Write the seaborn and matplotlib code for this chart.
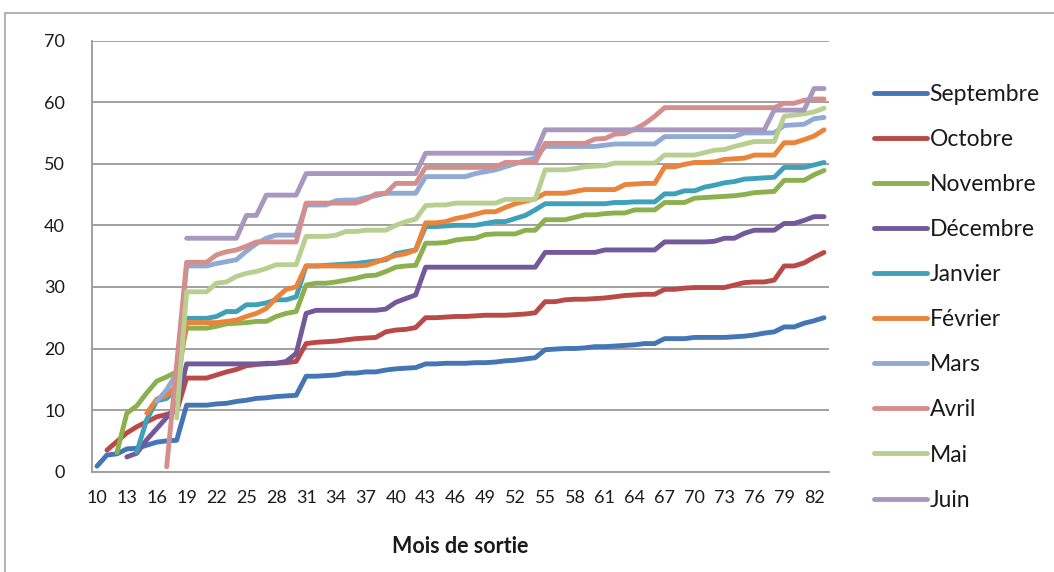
import numpy as np
import pandas as pd
import matplotlib
matplotlib.use("Agg")
import matplotlib.pyplot as plt
from matplotlib.lines import Line2D
import seaborn as sns

N = None
mois = list(range(10, 84))

septembre = [0.9, 2.7, 2.9, 3.7, 3.8, 4.3, 4.8, 5.0, 5.1,
             10.8, 10.8, 10.8, 11.0, 11.1, 11.4, 11.6, 11.9, 12.0, 12.2, 12.3, 12.4,
             15.5, 15.5, 15.6, 15.7, 16.0, 16.0, 16.2, 16.2, 16.5, 16.7, 16.8, 16.9,
             17.5, 17.5, 17.6, 17.6, 17.6, 17.7, 17.7, 17.8, 18.0, 18.1, 18.3, 18.5,
             19.8, 19.9, 20.0, 20.0, 20.1, 20.3, 20.3, 20.4, 20.5, 20.6, 20.8, 20.8,
             21.6, 21.6, 21.6, 21.8, 21.8, 21.8, 21.8, 21.9, 22.0, 22.2, 22.5, 22.7,
             23.5, 23.5, 24.1, 24.5, 25.0]
octobre = [N, 3.5, 4.9, 6.3, 7.3, 8.1, 8.9, 9.3, 9.8,
           15.2, 15.2, 15.2, 15.7, 16.2, 16.6, 17.2, 17.4, 17.6, 17.6, 17.7, 17.9,
           20.8, 21.0, 21.1, 21.2, 21.4, 21.6, 21.7, 21.8, 22.7, 23.0, 23.1, 23.4,
           25.0, 25.0, 25.1, 25.2, 25.2, 25.3, 25.4, 25.4, 25.4, 25.5, 25.6, 25.8,
           27.6, 27.6, 27.9, 28.0, 28.0, 28.1, 28.2, 28.4, 28.6, 28.7, 28.8, 28.8,
           29.6, 29.6, 29.8, 29.9, 29.9, 29.9, 29.9, 30.3, 30.7, 30.8, 30.8, 31.1,
           33.4, 33.4, 33.9, 34.8, 35.6]
novembre = [N, N, 3.1, 9.5, 10.7, 12.8, 14.7, 15.4, 16.2,
            23.3, 23.3, 23.3, 23.6, 24.0, 24.1, 24.2, 24.4, 24.4, 25.2, 25.7, 26.0,
            30.3, 30.6, 30.6, 30.8, 31.1, 31.4, 31.8, 31.9, 32.5, 33.2, 33.4, 33.5,
            37.1, 37.1, 37.2, 37.6, 37.8, 37.9, 38.5, 38.6, 38.6, 38.6, 39.2, 39.2,
            40.9, 40.9, 40.9, 41.3, 41.7, 41.7, 41.9, 42.0, 42.0, 42.5, 42.5, 42.5,
            43.7, 43.7, 43.7, 44.4, 44.5, 44.6, 44.7, 44.8, 45.0, 45.3, 45.4, 45.5,
            47.3, 47.3, 47.3, 48.2, 48.9]
decembre = [N, N, N, 2.4, 3.0, 5.2, 7.0, 8.8, 10.6,
            17.5, 17.5, 17.5, 17.5, 17.5, 17.5, 17.5, 17.5, 17.5, 17.6, 17.9, 19.2,
            25.7, 26.2, 26.2, 26.2, 26.2, 26.2, 26.2, 26.2, 26.4, 27.5, 28.1, 28.7,
            33.2, 33.2, 33.2, 33.2, 33.2, 33.2, 33.2, 33.2, 33.2, 33.2, 33.2, 33.2,
            35.6, 35.6, 35.6, 35.6, 35.6, 35.6, 36.0, 36.0, 36.0, 36.0, 36.0, 36.0,
            37.3, 37.3, 37.3, 37.3, 37.3, 37.4, 37.9, 37.9, 38.7, 39.2, 39.2, 39.2,
            40.3, 40.3, 40.8, 41.4, 41.4]
janvier = [N, N, N, N, 3.2, 8.5, 11.5, 11.9, 13.5,
           24.9, 24.9, 24.9, 25.2, 26.0, 26.0, 27.1, 27.1, 27.4, 27.9, 27.9, 28.4,
           33.4, 33.4, 33.5, 33.6, 33.7, 33.8, 34.0, 34.2, 34.4, 35.4, 35.7, 36.0,
           39.8, 39.8, 39.9, 40.0, 40.0, 40.0, 40.3, 40.6, 40.6, 41.1, 41.6, 42.5,
           43.5, 43.5, 43.5, 43.5, 43.5, 43.5, 43.5, 43.7, 43.7, 43.8, 43.8, 43.8,
           45.1, 45.1, 45.6, 45.6, 46.2, 46.5, 46.9, 47.1, 47.5, 47.6, 47.7, 47.8,
           49.4, 49.4, 49.4, 49.8, 50.2]
fevrier = [N, N, N, N, N, 9.5, 11.8, 12.4, 14.0,
           24.2, 24.2, 24.2, 24.2, 24.4, 24.6, 25.2, 25.7, 26.5, 28.2, 29.6, 30.0,
           33.4, 33.4, 33.4, 33.4, 33.4, 33.4, 33.5, 34.0, 34.6, 35.1, 35.4, 36.0,
           40.4, 40.4, 40.6, 41.1, 41.4, 41.8, 42.2, 42.2, 42.9, 43.5, 43.9, 44.3,
           45.2, 45.2, 45.2, 45.5, 45.8, 45.8, 45.8, 45.8, 46.6, 46.7, 46.8, 46.8,
           49.5, 49.5, 49.9, 50.2, 50.2, 50.3, 50.7, 50.8, 50.9, 51.4, 51.4, 51.4,
           53.4, 53.4, 53.9, 54.5, 55.5]
mars = [N, N, N, N, N, N, 11.4, 13.3, 16.0,
        33.4, 33.4, 33.4, 33.8, 34.1, 34.4, 35.8, 37.0, 37.9, 38.4, 38.4, 38.4,
        43.3, 43.3, 43.3, 44.0, 44.1, 44.1, 44.5, 44.8, 45.2, 45.2, 45.2, 45.2,
        47.9, 47.9, 47.9, 47.9, 47.9, 48.4, 48.7, 49.0, 49.5, 50.0, 50.5, 50.9,
        52.8, 52.8, 52.8, 52.8, 52.8, 52.8, 53.0, 53.2, 53.2, 53.2, 53.2, 53.2,
        54.4, 54.4, 54.4, 54.4, 54.4, 54.4, 54.4, 54.4, 55.0, 55.0, 55.0, 55.0,
        56.2, 56.3, 56.4, 57.3, 57.5]
avril = [N, N, N, N, N, N, N, 0.8, 17.4,
         34.0, 34.0, 34.0, 35.2, 35.7, 36.0, 36.6, 37.3, 37.3, 37.3, 37.3, 37.3,
         43.6, 43.6, 43.6, 43.6, 43.6, 43.6, 44.2, 45.1, 45.2, 46.8, 46.8, 46.8,
         49.4, 49.4, 49.4, 49.4, 49.4, 49.4, 49.4, 49.5, 50.2, 50.2, 50.2, 50.2,
         53.3, 53.3, 53.3, 53.3, 53.3, 54.0, 54.1, 54.8, 54.9, 55.6, 56.5, 57.7,
         59.1, 59.1, 59.1, 59.1, 59.1, 59.1, 59.1, 59.1, 59.1, 59.1, 59.1, 59.1,
         59.8, 59.8, 60.3, 60.5, 60.5]
mai = [N, N, N, N, N, N, N, N, 8.7,
       29.2, 29.2, 29.2, 30.6, 30.8, 31.7, 32.2, 32.5, 33.0, 33.6, 33.6, 33.6,
       38.2, 38.2, 38.2, 38.4, 39.0, 39.0, 39.2, 39.2, 39.2, 40.0, 40.6, 41.0,
       43.2, 43.3, 43.3, 43.6, 43.6, 43.6, 43.6, 43.6, 44.2, 44.2, 44.2, 44.2,
       49.0, 49.0, 49.0, 49.2, 49.5, 49.6, 49.7, 50.1, 50.1, 50.1, 50.1, 50.1,
       51.4, 51.4, 51.4, 51.4, 51.8, 52.2, 52.3, 52.8, 53.2, 53.6, 53.6, 53.6,
       57.7, 57.9, 58.1, 58.4, 59.0]
juin = [N, N, N, N, N, N, N, N, N,
        37.9, 37.9, 37.9, 37.9, 37.9, 37.9, 41.6, 41.6, 44.9, 44.9, 44.9, 44.9,
        48.4, 48.4, 48.4, 48.4, 48.4, 48.4, 48.4, 48.4, 48.4, 48.4, 48.4, 48.4,
        51.7, 51.7, 51.7, 51.7, 51.7, 51.7, 51.7, 51.7, 51.7, 51.7, 51.7, 51.7,
        55.5, 55.5, 55.5, 55.5, 55.5, 55.5, 55.5, 55.5, 55.5, 55.5, 55.5, 55.5,
        55.5, 55.5, 55.5, 55.5, 55.5, 55.5, 55.5, 55.5, 55.5, 55.5, 55.5, 58.7,
        58.7, 58.7, 58.7, 62.2, 62.2]

series_names = ["Septembre", "Octobre", "Novembre", "Décembre", "Janvier",
                "Février", "Mars", "Avril", "Mai", "Juin"]
series_vals = [septembre, octobre, novembre, decembre, janvier,
               fevrier, mars, avril, mai, juin]
colors = ["#4475B4", "#B94A47", "#8CB04D", "#73589A", "#3FA0BA",
          "#EA843B", "#90AAD4", "#D48E8C", "#B8CF90", "#A898C0"]
tick_labels = [str(m) for m in range(10, 83, 3)]

rows = []
for name, vals in zip(series_names, series_vals):
    assert len(vals) == len(mois)
    for i, v in enumerate(vals):
        if v is not None:
            rows.append({"idx": i, "mois": mois[i], "valeur": v, "serie": name})
df = pd.DataFrame(rows)

sns.set_style("white")
plt.rcParams["font.family"] = ["Lato", "DejaVu Sans"]

fig = plt.figure(figsize=(10.54, 5.72), dpi=100)
W, H = 1054, 572
ax = fig.add_axes([92 / W, 1 - 471.7 / H, (829 - 92) / W, (471.7 - 40.5) / H])

sns.lineplot(data=df, x="idx", y="valeur", hue="serie", hue_order=series_names,
             palette=dict(zip(series_names, colors)), estimator=None, sort=True,
             linewidth=3.5, legend=False, ax=ax, zorder=3)
for ln in ax.lines:
    ln.set_solid_capstyle("round")
    ln.set_solid_joinstyle("round")

grey = "#A0A0A0"
ax.set_xlim(-0.5, len(mois) - 0.5)
ax.set_ylim(0, 70)
ax.set_yticks(range(0, 71, 10))
ax.grid(axis="y", color=grey, linewidth=1.4, zorder=0)
ax.grid(axis="x", visible=False)
ax.set_xticks([mois.index(int(t)) for t in tick_labels])
ax.set_xticklabels(tick_labels)
ax.set_xticks(np.arange(-0.5, len(mois), 1.0), minor=True)
ax.tick_params(axis="x", which="major", length=0, pad=13, labelsize=13, labelcolor="#1a1a1a")
ax.tick_params(axis="x", which="minor", length=4.5, width=1, color=grey, direction="out")
ax.tick_params(axis="y", which="major", length=4.5, width=1, color=grey, direction="out",
               pad=15, labelsize=13, labelcolor="#1a1a1a")
for s in ["top", "right"]:
    ax.spines[s].set_visible(False)
for s in ["left", "bottom"]:
    ax.spines[s].set_color(grey)
    ax.spines[s].set_linewidth(1.4)
ax.set_xlabel("Mois de sortie", fontsize=15.5, fontweight="bold", labelpad=22, color="#1a1a1a")
ax.set_ylabel("")

handles = [Line2D([0], [0], color=c, lw=3.5, solid_capstyle="round") for c in colors]
fig.legend(handles, series_names, loc="upper left",
           bbox_to_anchor=(874 / W, 1 - 84 / H), frameon=False, fontsize=16.5,
           handlelength=2.3, handletextpad=0.12, labelspacing=1.05,
           borderaxespad=0, borderpad=0, labelcolor="#1a1a1a")

# outer chart frame
fig.add_artist(Line2D([5 / W, 5 / W], [0, 1 - 13 / H], transform=fig.transFigure,
                      color="#A6A6A6", lw=1.2))
fig.add_artist(Line2D([5 / W, 1], [1 - 13 / H, 1 - 13 / H], transform=fig.transFigure,
                      color="#A6A6A6", lw=1.2))

fig.savefig("out.png", dpi=100, facecolor="white")
